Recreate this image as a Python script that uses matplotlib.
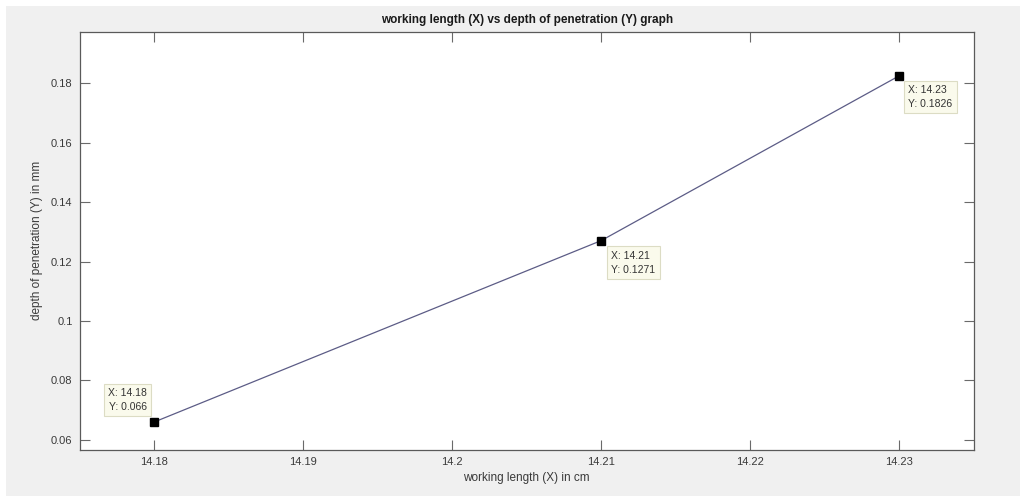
import matplotlib
matplotlib.use("Agg")
import matplotlib.pyplot as plt
from matplotlib.patches import Rectangle

# Data
working_length = [14.18, 14.21, 14.23]
depth = [0.066, 0.1271, 0.1826]
tip_labels = ["X: 14.18\nY: 0.066", "X: 14.21\nY: 0.1271", "X: 14.23\nY: 0.1826"]
x_ticks = [14.18, 14.19, 14.20, 14.21, 14.22, 14.23]
x_tick_labels = ["14.18", "14.19", "14.2", "14.21", "14.22", "14.23"]
y_ticks = [0.06, 0.08, 0.10, 0.12, 0.14, 0.16, 0.18]
y_tick_labels = ["0.06", "0.08", "0.1", "0.12", "0.14", "0.16", "0.18"]

plt.rcParams['font.family'] = ['Liberation Sans', 'DejaVu Sans']

W, H = 1030, 496
fig = plt.figure(figsize=(W / 100, H / 100), dpi=100)
fig.patch.set_facecolor('white')
# gray MATLAB figure background with thin white frame at top/left
fig.add_artist(Rectangle((6 / W, 0), 1 - 16 / W, 1 - 6 / H, transform=fig.transFigure,
                         facecolor='#f0f0f0', edgecolor='none', zorder=-10))

ax = fig.add_axes([79.5 / W, 1 - 450 / H, (974 - 79.5) / W, (450 - 31.7) / H])
ax.set_facecolor('white')

ax.plot(working_length, depth, color='#5c5c86', lw=0.9, zorder=2)
ax.plot(working_length, depth, 's', color='black', ms=6, zorder=3)

ax.set_xlim(14.175, 14.235)
ax.set_ylim(0.0566, 0.1974)
ax.set_xticks(x_ticks)
ax.set_xticklabels(x_tick_labels)
ax.set_yticks(y_ticks)
ax.set_yticklabels(y_tick_labels)

for s in ax.spines.values():
    s.set_color('#5a5a5a')
    s.set_linewidth(0.9)
ax.tick_params(direction='in', length=7, width=0.8, color='#6a6a6a',
               labelsize=8, labelcolor='#3a3a3a', top=True, right=True,
               labeltop=False, labelright=False, pad=5)

ax.set_title("working length (X) vs depth of penetration (Y) graph",
             fontsize=8.5, fontweight='bold', color='#1a1a1a', pad=6)
ax.set_xlabel("working length (X) in cm", fontsize=8.5, color='#3a3a3a', labelpad=4)
ax.set_ylabel("depth of penetration (Y) in mm", fontsize=8.5, color='#3a3a3a', labelpad=6)

# data tips (offsets in pixels)
offsets = [(-7, 10, 'right', 'bottom'), (10, -10, 'left', 'top'), (9, -9, 'left', 'top')]
for x, y, lab, (dx, dy, ha, va) in zip(working_length, depth, tip_labels, offsets):
    ax.annotate(lab, xy=(x, y), xytext=(dx, dy), textcoords='offset pixels',
                ha=ha, va=va, fontsize=7.5, color='#333333', linespacing=1.5,
                bbox=dict(boxstyle='square,pad=0.4', facecolor='#fafaec',
                          edgecolor='#dcdcc4', linewidth=0.8), zorder=5)

fig.savefig("out.png", dpi=100)
